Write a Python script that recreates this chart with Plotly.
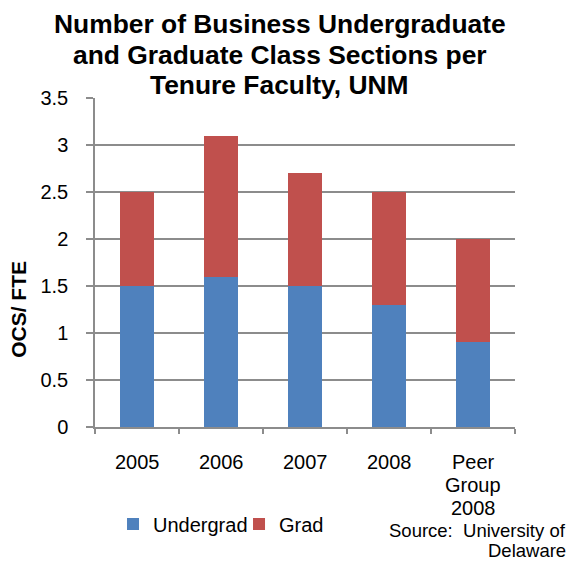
import plotly.graph_objects as go

categories = ["2005", "2006", "2007", "2008", "Peer Group 2008"]
category_label_lines = [["2005"], ["2006"], ["2007"], ["2008"], ["Peer", "Group", "2008"]]
undergrad = [1.5, 1.6, 1.5, 1.3, 0.9]
grad = [1.0, 1.5, 1.2, 1.2, 1.1]
y_ticks = [0, 0.5, 1, 1.5, 2, 2.5, 3, 3.5]
y_tick_labels = ["0", "0.5", "1", "1.5", "2", "2.5", "3", "3.5"]
title_lines = ["Number of Business Undergraduate",
               "and Graduate Class Sections per",
               "Tenure Faculty, UNM"]
source_lines = ["Source:\u00a0\u00a0University of", "Delaware"]

FONT = "Liberation Sans, Arial, sans-serif"
GRID = "#8c8c8c"

fig = go.Figure()
fig.add_trace(go.Bar(x=categories, y=undergrad, name="Undergrad",
                     marker=dict(color="#4F81BD", line=dict(width=0)), width=0.4))
fig.add_trace(go.Bar(x=categories, y=grad, name="Grad",
                     marker=dict(color="#C0504D", line=dict(width=0)), width=0.4))

annotations = []
# three-line bold title
for text, yy in zip(title_lines, [1.2264, 1.1307, 1.0395]):
    annotations.append(dict(text=f"<b>{text}</b>", xref="paper", yref="paper",
                            x=0.44, y=yy, xanchor="center", yanchor="middle",
                            showarrow=False,
                            font=dict(family=FONT, size=26.4, color="black")))
# category labels under the axis, one annotation per line for tight spacing
# (x given as the category index so year-like names are not read as numbers)
label_rows = [-0.1064, -0.1763, -0.2462]
for idx, lines in enumerate(category_label_lines):
    for line, yy in zip(lines, label_rows):
        annotations.append(dict(text=line, xref="x", yref="paper",
                                x=idx, y=yy, xanchor="center", yanchor="middle",
                                showarrow=False,
                                font=dict(family=FONT, size=20, color="black")))
# rotated y-axis title
annotations.append(dict(text="<b>OCS/ FTE</b>", xref="paper", yref="paper",
                        x=-0.181, y=0.359, xanchor="center", yanchor="middle",
                        textangle=-90, showarrow=False,
                        font=dict(family=FONT, size=21, color="black")))
# source note, right aligned
for text, yy in zip(source_lines, [-0.3146, -0.3754]):
    annotations.append(dict(text=text, xref="paper", yref="paper",
                            x=1.126, y=yy, xanchor="right", yanchor="middle",
                            showarrow=False,
                            font=dict(family=FONT, size=18.5, color="black")))

fig.update_layout(
    barmode="stack",
    width=571, height=562,
    paper_bgcolor="white", plot_bgcolor="white",
    margin=dict(l=95, r=56, t=98, b=135),
    font=dict(family=FONT, size=20, color="black"),
    showlegend=True,
    legend=dict(orientation="h", traceorder="normal",
                x=0.0429, y=-0.295, xanchor="left", yanchor="middle",
                font=dict(family=FONT, size=20), itemwidth=30,
                entrywidth=81, entrywidthmode="pixels",
                bgcolor="rgba(0,0,0,0)"),
    xaxis=dict(
        type="category", categoryorder="array", categoryarray=categories,
        range=[-0.5, len(categories) - 0.5], autorange=False,
        tickson="boundaries", ticks="outside", ticklen=5,
        tickcolor=GRID, tickwidth=1.5, showline=True, linecolor=GRID, linewidth=1.5,
        showgrid=False, showticklabels=False,
    ),
    yaxis=dict(
        range=[0, 3.5], tickvals=y_ticks, ticktext=y_tick_labels,
        ticks="outside", ticklen=7, tickcolor=GRID, tickwidth=1.5,
        showline=True, linecolor=GRID, linewidth=1.5,
        showgrid=True, gridcolor=GRID, gridwidth=1.5,
        zeroline=False, tickfont=dict(size=20), ticklabelstandoff=14,
    ),
    annotations=annotations,
)

fig.write_html("out.html")
